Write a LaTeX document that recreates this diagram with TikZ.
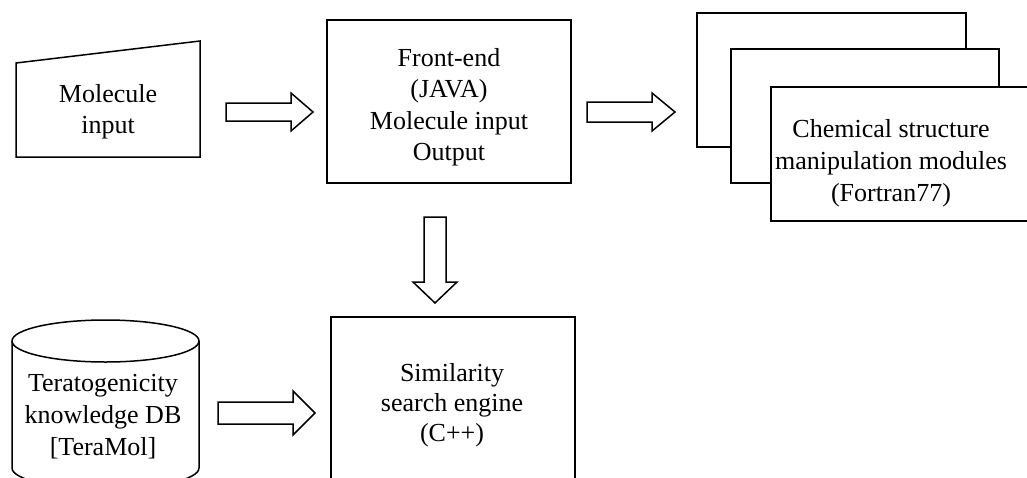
\documentclass[tikz,border=0pt]{standalone}
\usepackage{fontspec}
\setmainfont{Liberation Serif}

% horizontal block arrow: x-start, x-tip, x of head base, y-centre, half shaft, half head
\newcommand\hblockarrow[6]{%
  \draw[blk] (#1,{#4-#5}) -- (#3,{#4-#5}) -- (#3,{#4-#6}) -- (#2,#4)
    -- (#3,{#4+#6}) -- (#3,{#4+#5}) -- (#1,{#4+#5}) -- cycle;}
% vertical block arrow: y-start, y-tip, y of head base, x-centre, half shaft, half head
\newcommand\vblockarrow[6]{%
  \draw[blk] ({#4-#5},#1) -- ({#4-#5},#3) -- ({#4-#6},#3) -- (#4,#2)
    -- ({#4+#6},#3) -- ({#4+#5},#3) -- ({#4+#5},#1) -- cycle;}

\begin{document}
\begin{tikzpicture}[x=1pt,y=-1pt,
  box/.style={draw, line width=1.5pt, fill=white},
  lbl/.style={align=center, font=\fontsize{26}{31}\selectfont, inner sep=0pt},
  blk/.style={draw, line width=1.5pt, fill=white, line join=miter}]
\useasboundingbox (0,0) rectangle (1027,477);
\clip (0,0) rectangle (1027,477);

% manual input
\draw[box] (16,63) -- (200,41) -- (200,157) -- (16,157) -- cycle;
\node[lbl] (mol) at (108,112) {Molecule\\input};

% front-end
\draw[box] (327,20) rectangle (571,183);
\node[lbl, font=\fontsize{26}{31.5}\selectfont] (front) at (449,107) {Front-end\\(JAVA)\\Molecule input\\Output};

% stacked module boxes
\draw[box] (697,13) rectangle (966,147);
\draw[box] (731,49) rectangle (999,183);
\draw[box] (771,87) rectangle (1045,221);
\node[lbl, font=\fontsize{26}{32}\selectfont] (chem) at (891,163) {Chemical structure\\manipulation modules\\(Fortran77)};

% knowledge database cylinder
\draw[box] (12,341) -- (12,468) arc[start angle=180, end angle=360, x radius=93.5, y radius=-21]
  -- (199,341);
\draw[box] (105.5,341) ellipse[x radius=93.5, y radius=21];
\node[lbl, font=\fontsize{26}{32}\selectfont] (db) at (103,417) {Teratogenicity\\knowledge DB\\{[TeraMol]}};

% similarity search engine
\draw[box] (331,317) rectangle (575,530);
\node[lbl, font=\fontsize{26}{30}\selectfont] (sim) at (452,405) {Similarity\\search engine\\(C++)};

% block arrows between the components
\hblockarrow{226}{313}{291}{112}{9}{19}
\hblockarrow{587}{675}{652}{112}{10}{19}
\hblockarrow{218}{315}{293}{413}{11}{22}
\vblockarrow{217}{303}{282}{435}{11}{22}
\end{tikzpicture}
\end{document}
